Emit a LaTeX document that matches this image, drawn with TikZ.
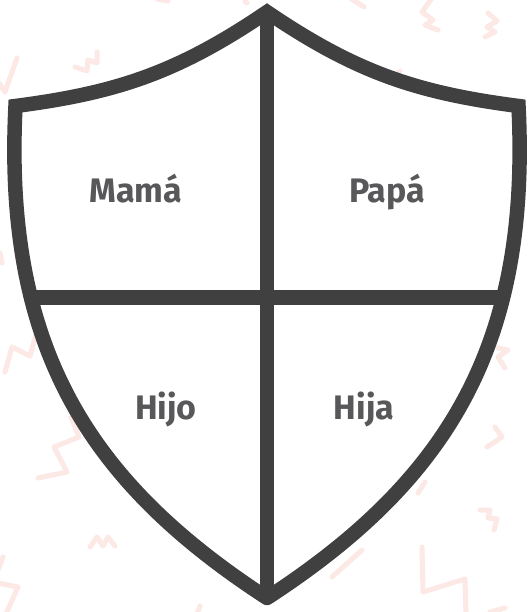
\documentclass[tikz,border=0pt]{standalone}
\usepackage{fontspec}
\setmainfont{Fira Sans}
\definecolor{shield}{HTML}{404040}
\definecolor{lab}{HTML}{58585A}
\definecolor{pinkish}{HTML}{FCE8E5}
\begin{document}
\begin{tikzpicture}[x=1pt,y=-1pt, line join=miter,
  outline/.style={draw=shield, line width=14.5pt},
  squig/.style={draw=pinkish, line width=5pt, line cap=round, line join=round},
  lbl/.style={text=lab, font=\fontsize{34}{40}\selectfont\bfseries, anchor=base, inner sep=0pt}]
\fill[white] (0,0) rectangle (527,612);
\useasboundingbox (0,0) rectangle (527,612);
% background squiggles
\draw[squig] (17,58) -- (5,92) -- (-2,82);
\draw[squig] (75,67) -- (87,71) -- (88,60) -- (97,63) -- (97,52);
\draw[squig] (157,-1) -- (168,1);
\draw[squig] (245,1) -- (247,3);
\draw[squig] (350,-2) -- (364,7);
\draw[squig] (432,-2) -- (422,12) -- (433,20) -- (425,25) -- (438,30);
\draw[squig] (488,13) -- (497,21) -- (487,27) -- (495,32) -- (485,37);
\draw[squig] (393,76) -- (400,71);
\draw[squig] (0,253) -- (2,263);
\draw[squig] (5,372) -- (12,347) -- (30,356) -- (36,335);
\draw[squig] (38,478) -- (67,472) -- (54,447) -- (79,437) -- (71,417);
\draw[squig] (90,547) -- (97,537) -- (103,546) -- (108,537) -- (115,546);
\draw[squig] (3,557) -- (-2,570);
\draw[squig] (-2,583) -- (18,587) -- (6,614);
\draw[squig] (197,614) -- (200,606);
\draw[squig] (332,577) -- (362,550);
\draw[squig] (418,493) -- (425,482);
\draw[squig] (480,510) -- (490,510) -- (488,518) -- (497,519) -- (494,530);
\draw[squig] (422,547) -- (423,592) -- (465,579) -- (466,616);
\draw[squig] (505,608) -- (490,612);
\draw[squig] (498,348) -- (508,350) -- (498,357) -- (505,368);
\draw[squig] (487,447) -- (502,437) -- (495,427);
% shield
\coordinate (T) at (267,12);
\coordinate (L) at (15.5,106);
\coordinate (R) at (518.5,106);
\coordinate (B) at (267,598);
\coordinate (HL) at (33.5,297.5);
\coordinate (HR) at (500.5,297.5);
\fill[white] (B) .. controls (87,481) and (3.5,346) .. (L)
  .. controls (115.5,93) and (177,73.2) .. (T)
  .. controls (357,73.2) and (418.5,93) .. (R)
  .. controls (530.5,346) and (447,481) .. (B) -- cycle;
\draw[outline] (T) -- (B);
\draw[outline] (HL) -- (HR);
\draw[outline, line cap=round] (B) .. controls (87,481) and (3.5,346) .. (L)
  .. controls (115.5,93) and (177,73.2) .. (T)
  .. controls (357,73.2) and (418.5,93) .. (R)
  .. controls (530.5,346) and (447,481) .. (B);
% labels
\node[lbl] (mama) at (136,202.3) {Mamá};
\node[lbl] (papa) at (387,202.3) {Papá};
\node[lbl] (hijo) at (166,419.3) {Hijo};
\node[lbl] (hija) at (364,419.3) {Hija};
\end{tikzpicture}
\end{document}
